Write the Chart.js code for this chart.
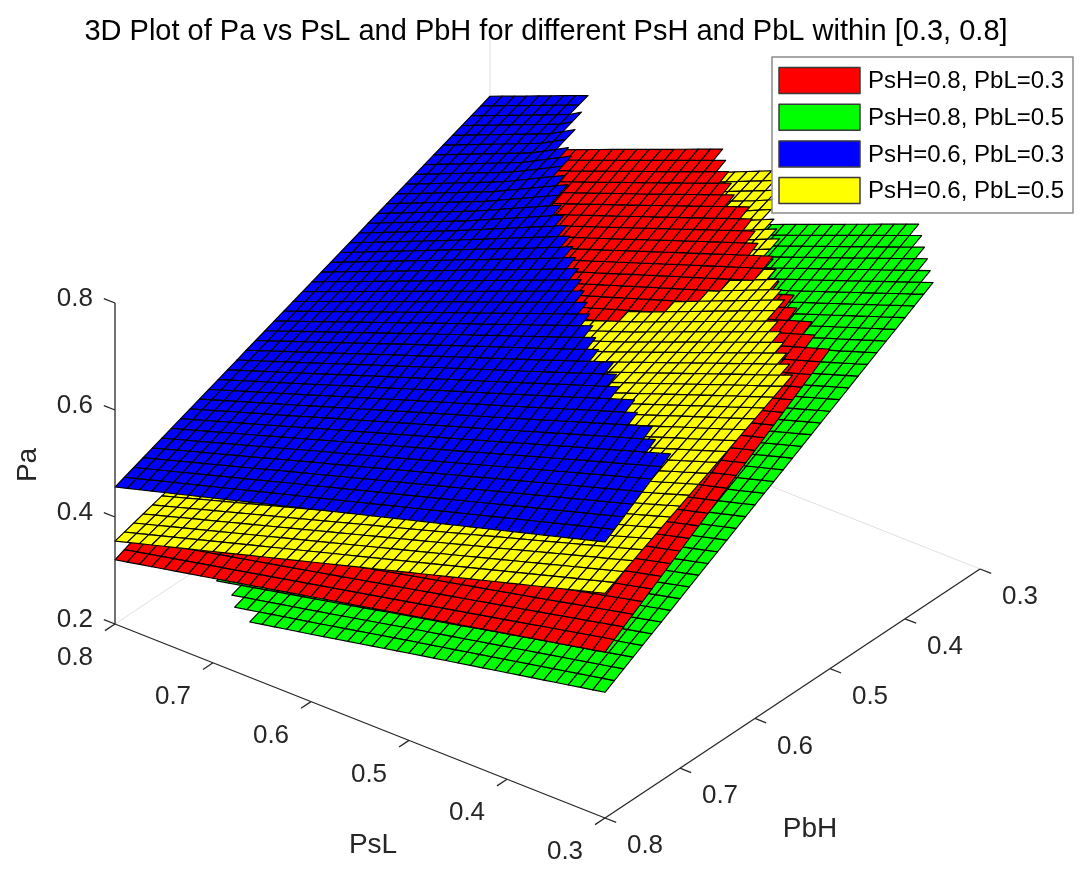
<!DOCTYPE html>
<html>
<head>
<meta charset="utf-8">
<script src="https://cdn.jsdelivr.net/npm/chart.js@4.4.1/dist/chart.umd.min.js"></script>
<style>
html,body{margin:0;padding:0;background:#ffffff;}
#wrap{width:1089px;height:877px;position:relative;overflow:hidden;}
</style>
</head>
<body>
<div id="wrap"><canvas id="c" width="1089" height="877"></canvas></div>
<script>
// ---------------- DATA ----------------
const chartTitle = '3D Plot of Pa vs PsL and PbH for different PsH and PbL within [0.3, 0.8]';
const psLTicks = [0.3, 0.4, 0.5, 0.6, 0.7, 0.8];
const pbHTicks = [0.3, 0.4, 0.5, 0.6, 0.7, 0.8];
const paTicks = [0.2, 0.4, 0.6, 0.8];
const seriesLabels = ['PsH=0.8, PbL=0.3', 'PsH=0.8, PbL=0.5', 'PsH=0.6, PbL=0.3', 'PsH=0.6, PbL=0.5'];

// Pa values, rows = PbH 0.3 .. 0.8, columns = PsL 0.3 .. 0.8
const paRed = [
  [0.988, 0.914, 0.841, 0.767, 0.694, 0.620],
  [0.892, 0.826, 0.760, 0.693, 0.627, 0.560],
  [0.797, 0.737, 0.678, 0.619, 0.560, 0.500],
  [0.701, 0.649, 0.597, 0.544, 0.492, 0.440],
  [0.606, 0.560, 0.515, 0.470, 0.425, 0.380],
  [0.510, 0.472, 0.434, 0.396, 0.358, 0.320]
];
const paGreen = [
  [0.845, 0.772, 0.699, 0.626, 0.553, 0.480],
  [0.763, 0.697, 0.632, 0.566, 0.500, 0.435],
  [0.681, 0.623, 0.565, 0.506, 0.448, 0.390],
  [0.599, 0.548, 0.497, 0.446, 0.395, 0.344],
  [0.517, 0.474, 0.430, 0.386, 0.343, 0.299],
  [0.435, 0.399, 0.363, 0.326, 0.290, 0.254]
];
const paBlue = [
  [1.191, 1.097, 1.003, 0.909, 0.795, 0.721],
  [1.096, 1.010, 0.925, 0.839, 0.745, 0.668],
  [1.001, 0.924, 0.847, 0.769, 0.692, 0.615],
  [0.906, 0.837, 0.768, 0.700, 0.631, 0.562],
  [0.811, 0.751, 0.690, 0.630, 0.569, 0.509],
  [0.716, 0.664, 0.612, 0.560, 0.508, 0.456]
];
const paYellow = [
  [0.970, 0.885, 0.800, 0.722, 0.643, 0.565],
  [0.900, 0.821, 0.742, 0.669, 0.596, 0.523],
  [0.830, 0.757, 0.684, 0.617, 0.549, 0.481],
  [0.760, 0.694, 0.628, 0.565, 0.502, 0.439],
  [0.690, 0.630, 0.571, 0.513, 0.455, 0.397],
  [0.620, 0.567, 0.514, 0.461, 0.408, 0.355]
];
// region where the green surface has no values (front-left corner)
const greenGapPbH = [0.72, 0.77, 0.8];
const greenGapPsL = [0.8, 0.70, 0.655];

// ---------------- STYLE ----------------
const seriesColors = ['#ff0000', '#00ff00', '#0000ff', '#ffff00'];
const FONT = '"Liberation Sans", Arial, Helvetica, sans-serif';
const AXIS_COLOR = '#262626';

// axis limits
const xLim = [0.3, 0.8], yLim = [0.3, 0.8], zLim = [0.2, 0.8];

// camera / projection (screen units of the hidden linear scales)
const VIEW = { ox: 605, oy: 818, dxP: -980, dyP: -388, dxB: -750, dyB: 498, dyA: -535 };
function proj(p, b, a) {
  return {
    x: VIEW.ox + VIEW.dxP * (p - xLim[0]) + VIEW.dxB * (b - yLim[1]),
    y: VIEW.oy + VIEW.dyP * (p - xLim[0]) + VIEW.dyB * (b - yLim[1]) + VIEW.dyA * (a - zLim[0])
  };
}
// depth along the projection direction (null vector of the projection), larger = farther
const cB = VIEW.dxP / VIEW.dxB;
const cA = (-VIEW.dyP + VIEW.dyB * cB) / (-VIEW.dyA);
function depthOf(p, b, a) {
  return (p - xLim[0]) + cB * (yLim[1] - b) - cA * a;
}

function sample(g, p, b) {
  const step = 0.1;
  const fi = (p - xLim[0]) / step, fj = (b - yLim[0]) / step;
  const i0 = Math.max(0, Math.min(g[0].length - 2, Math.floor(fi + 1e-9)));
  const j0 = Math.max(0, Math.min(g.length - 2, Math.floor(fj + 1e-9)));
  const tx = fi - i0, ty = fj - j0;
  return g[j0][i0] * (1 - tx) * (1 - ty) + g[j0][i0 + 1] * tx * (1 - ty) +
         g[j0 + 1][i0] * (1 - tx) * ty + g[j0 + 1][i0 + 1] * tx * ty;
}
function interp(xs, ys, x) {
  if (x <= xs[0]) return ys[0];
  for (let i = 1; i < xs.length; i++) {
    if (x <= xs[i]) { const t = (x - xs[i - 1]) / (xs[i] - xs[i - 1]); return ys[i - 1] + t * (ys[i] - ys[i - 1]); }
  }
  return ys[ys.length - 1];
}

const surfacePlugin = {
  id: 'surface3d',
  afterDraw(chart) {
    const ctx = chart.ctx;
    const sx = chart.scales.x, sy = chart.scales.y;
    const px = (q) => [sx.getPixelForValue(q.x), sy.getPixelForValue(q.y)];
    const P3 = (p, b, a) => px(proj(p, b, a));
    const seg = (A, B) => { ctx.beginPath(); ctx.moveTo(A[0], A[1]); ctx.lineTo(B[0], B[1]); ctx.stroke(); };
    const unit = (vx, vy) => { const l = Math.hypot(vx, vy); return [vx / l, vy / l]; };

    ctx.save();
    // faint back box lines
    ctx.strokeStyle = '#e0e0e0';
    ctx.lineWidth = 1;
    seg(P3(0.8, 0.8, 0.2), P3(0.8, 0.3, 0.2));
    seg(P3(0.8, 0.3, 0.2), P3(0.3, 0.3, 0.2));
    seg(P3(0.8, 0.3, 0.2), P3(0.8, 0.3, 0.85));

    // surfaces
    const N = 40, h = (xLim[1] - xLim[0]) / N;
    const faces = [];
    chart.data.datasets.forEach((ds) => {
      const g = ds.grid;
      for (let i = 0; i < N; i++) {
        for (let j = 0; j < N; j++) {
          const p0 = xLim[0] + i * h, p1 = xLim[0] + (i + 1) * h;
          const b0 = yLim[0] + j * h, b1 = yLim[0] + (j + 1) * h;
          const v00 = sample(g, p0, b0), v10 = sample(g, p1, b0), v11 = sample(g, p1, b1), v01 = sample(g, p0, b1);
          const mx = Math.max(v00, v10, v11, v01), mn = Math.min(v00, v10, v11, v01);
          if (mx > zLim[1] + 1e-9 || mn < zLim[0] - 1e-9) continue;
          const pc = (p0 + p1) / 2, bc = (b0 + b1) / 2;
          if (ds.gapPbH && bc >= ds.gapPbH[0]) {
            const cut = interp(ds.gapPbH, ds.gapPsL, bc);
            if (pc > cut) continue;
          }
          const ac = (v00 + v10 + v11 + v01) / 4;
          faces.push({
            d: depthOf(pc, bc, ac),
            c: ds.backgroundColor,
            pts: [P3(p0, b0, v00), P3(p1, b0, v10), P3(p1, b1, v11), P3(p0, b1, v01)]
          });
        }
      }
    });
    faces.sort((a, b) => b.d - a.d);
    ctx.lineWidth = 1.15;
    ctx.strokeStyle = '#000000';
    ctx.lineJoin = 'round';
    for (const f of faces) {
      ctx.beginPath();
      ctx.moveTo(f.pts[0][0], f.pts[0][1]);
      for (let k = 1; k < 4; k++) ctx.lineTo(f.pts[k][0], f.pts[k][1]);
      ctx.closePath();
      ctx.fillStyle = f.c;
      ctx.fill();
      ctx.stroke();
    }

    // axes
    ctx.strokeStyle = AXIS_COLOR;
    ctx.fillStyle = AXIS_COLOR;
    ctx.lineWidth = 1.3;
    seg(P3(0.8, 0.8, 0.2), P3(0.8, 0.8, 0.8));   // Pa axis
    seg(P3(0.8, 0.8, 0.2), P3(0.3, 0.8, 0.2));   // PsL axis
    seg(P3(0.3, 0.8, 0.2), P3(0.3, 0.3, 0.2));   // PbH axis

    const TL = 12;
    const dUpP = unit(VIEW.dxP, VIEW.dyP);     // direction of increasing PsL
    const dOutB = unit(VIEW.dxB, VIEW.dyB);    // direction of increasing PbH
    const dOutP = unit(-VIEW.dxP, -VIEW.dyP);  // direction of decreasing PsL

    ctx.font = '26px ' + FONT;
    ctx.textAlign = 'right'; ctx.textBaseline = 'middle';
    paTicks.forEach(t => {
      const A = P3(0.8, 0.8, t);
      seg(A, [A[0] + dUpP[0] * TL, A[1] + dUpP[1] * TL]);
      ctx.fillText(t.toFixed(1), A[0] - 22, A[1] - 4);
    });
    ctx.textAlign = 'center';
    psLTicks.forEach(t => {
      const A = P3(t, 0.8, 0.2);
      seg(A, [A[0] + dOutB[0] * TL, A[1] + dOutB[1] * TL]);
      ctx.fillText(t.toFixed(1), A[0] - 40, A[1] + 34);
    });
    pbHTicks.forEach(t => {
      const A = P3(0.3, t, 0.2);
      seg(A, [A[0] + dOutP[0] * TL, A[1] + dOutP[1] * TL]);
      ctx.fillText(t.toFixed(1), A[0] + 40, A[1] + 28);
    });

    // axis titles
    ctx.font = '28px ' + FONT;
    ctx.fillText('PsL', 373, 845);
    ctx.fillText('PbH', 810, 829);
    ctx.save();
    ctx.translate(28, 465);
    ctx.rotate(-Math.PI / 2);
    ctx.fillText('Pa', 0, 0);
    ctx.restore();

    // title
    ctx.fillStyle = '#000000';
    ctx.font = '29px ' + FONT;
    ctx.textAlign = 'center'; ctx.textBaseline = 'alphabetic';
    ctx.fillText(chartTitle, 546, 39.5);

    // legend
    const lx = 772, ly = 57, lw = 301, lh = 156;
    ctx.fillStyle = '#ffffff';
    ctx.fillRect(lx, ly, lw, lh);
    ctx.strokeStyle = '#8a8a8a'; ctx.lineWidth = 1.5;
    ctx.strokeRect(lx, ly, lw, lh);
    ctx.font = '24px ' + FONT;
    ctx.textAlign = 'left'; ctx.textBaseline = 'middle';
    chart.data.datasets.forEach((ds, k) => {
      const cy = 80.5 + k * 36.7;
      ctx.fillStyle = ds.backgroundColor;
      ctx.fillRect(779, cy - 13, 81, 26);
      ctx.strokeStyle = '#3a3a3a'; ctx.lineWidth = 1.5;
      ctx.strokeRect(779, cy - 13, 81, 26);
      ctx.fillStyle = '#000000';
      ctx.fillText(ds.label, 868, cy + 1);
    });
    ctx.restore();
  }
};

const grids = [paRed, paGreen, paBlue, paYellow];
const datasets = seriesLabels.map((lab, k) => ({
  label: lab,
  data: [],
  grid: grids[k],
  gapPbH: k === 1 ? greenGapPbH : null,
  gapPsL: k === 1 ? greenGapPsL : null,
  backgroundColor: seriesColors[k],
  borderColor: '#000000',
  pointRadius: 0,
  showLine: false
}));

new Chart(document.getElementById('c'), {
  type: 'scatter',
  data: { datasets },
  options: {
    responsive: false,
    animation: false,
    devicePixelRatio: 1,
    layout: { padding: 0 },
    plugins: { legend: { display: false }, tooltip: { enabled: false }, title: { display: false } },
    scales: {
      x: { type: 'linear', min: 0, max: 1089, display: false },
      y: { type: 'linear', min: 0, max: 877, reverse: true, display: false }
    }
  },
  plugins: [surfacePlugin]
});
</script>
</body>
</html>
